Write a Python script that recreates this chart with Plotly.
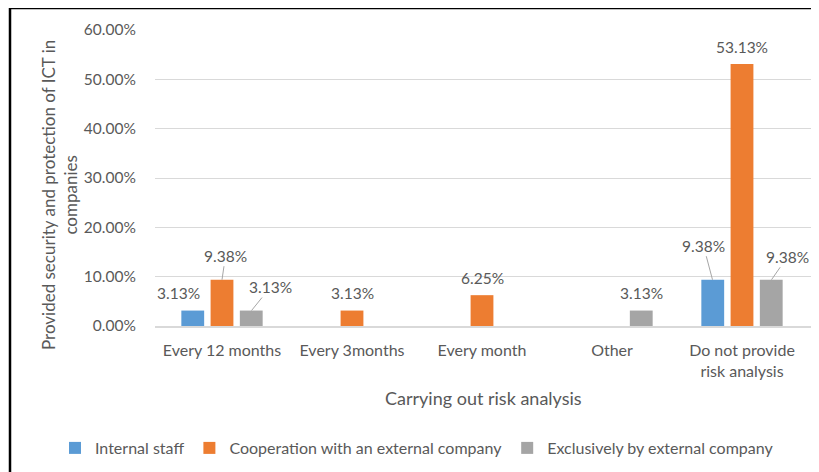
import plotly.graph_objects as go

# ---- data ----
categories = ["Every 12 months", "Every 3months", "Every month", "Other",
              "Do not provide<br>risk analysis"]
series_names = ["Internal staff", "Cooperation with an external company",
                "Exclusively by external company"]
internal_staff = [3.13, None, None, None, 9.38]
cooperation = [9.38, 3.13, 6.25, None, 53.13]
exclusively = [3.13, None, None, 3.13, 9.38]

colors = ["#5B9BD5", "#ED7D31", "#A5A5A5"]
all_series = [internal_staff, cooperation, exclusively]

# ---- layout geometry (page pixels; the page body adds an 8px offset) ----
OFF = 8
W, H = 819, 472
PL, PR, PT, PB = 155, 811, 30, 326      # plot box in page pixels
L, T = PL - OFF, PT - OFF
R, B = W - (PR - OFF), H - (PB - OFF)
PW, PH = PR - PL, PB - PT


def px(x):
    return (x - PL) / PW


def py(y):
    return (PB - y) / PH


FONT = "Lato, 'Open Sans', sans-serif"
GREY = "#595959"

fig = go.Figure()
for name, vals, col in zip(series_names, all_series, colors):
    fig.add_trace(go.Bar(x=categories, y=vals, name=name, marker_color=col,
                         marker_line_width=0))

# label offsets (pixels) per series/category: (dx, dy, arrow)
bar_offset = [-29.5, 0, 29.5]
label_pos = {
    (0, 0): (-14, -17.5, False),
    (1, 0): (3.5, -24, True),
    (2, 0): (19, -23.5, True),
    (1, 1): (0, -17.5, False),
    (1, 2): (0, -17, False),
    (2, 3): (0, -17.5, False),
    (0, 4): (-9, -34, True),
    (1, 4): (0, -16.5, False),
    (2, 4): (16, -23, True),
}

LBL = dict(family=FONT, size=15.5, color=GREY)
annotations = []
for (si, ci), (dx, dy, arrow) in label_pos.items():
    v = all_series[si][ci]
    txt = f"{v:.2f}%"
    if arrow:
        annotations.append(dict(x=categories[ci], y=v, xref="x", yref="y",
                                text=txt, showarrow=True, ax=dx, ay=dy,
                                axref="pixel", ayref="pixel",
                                arrowhead=0, arrowwidth=1, arrowcolor="#A6A6A6",
                                standoff=0, xshift=bar_offset[si], font=LBL))
    else:
        annotations.append(dict(x=categories[ci], y=v, xref="x", yref="y",
                                text=txt, showarrow=False,
                                xshift=bar_offset[si] + dx, yshift=-dy, font=LBL))

# axis titles
annotations.append(dict(x=px(483), y=py(398), xref="paper", yref="paper",
                        xanchor="center", yanchor="middle",
                        text="Carrying out risk analysis", showarrow=False,
                        font=dict(family=FONT, size=18, color=GREY)))
annotations.append(dict(x=px(59), y=py(195), xref="paper", yref="paper",
                        xanchor="center", yanchor="middle",
                        text="Provided security and protection of ICT in<br>companies",
                        textangle=-90, showarrow=False,
                        font=dict(family=FONT, size=17, color=GREY)))

shapes = [
    dict(type="line", xref="paper", yref="paper", x0=px(10), x1=px(10),
         y0=py(8), y1=py(490), line=dict(color="black", width=2.5)),
    dict(type="line", xref="paper", yref="paper", x0=px(10), x1=px(840),
         y0=py(8), y1=py(8), line=dict(color="black", width=2.5)),
]

fig.update_layout(
    width=W, height=H,
    margin=dict(l=L, r=R, t=T, b=B, pad=0, autoexpand=False),
    paper_bgcolor="white", plot_bgcolor="white",
    barmode="group", bargap=0.325, bargroupgap=0.22,
    font=dict(family=FONT, size=15, color=GREY),
    showlegend=True,
    legend=dict(orientation="h", xref="paper", yref="paper",
                x=px(55), y=py(448), xanchor="left", yanchor="middle",
                font=dict(family=FONT, size=16, color=GREY),
                itemwidth=30, bgcolor="rgba(0,0,0,0)"),
    annotations=annotations,
    shapes=shapes,
)
fig.update_xaxes(showgrid=False, showline=True, linecolor="#D9D9D9", linewidth=1.5,
                 ticks="outside", ticklen=9, tickcolor="rgba(0,0,0,0)",
                 tickfont=dict(family=FONT, size=16, color=GREY))
fig.update_yaxes(range=[0, 60], dtick=10, tickformat=".2f", ticksuffix="%",
                 showgrid=True, gridcolor="#D9D9D9", gridwidth=1, zeroline=False,
                 showline=False, ticks="outside", ticklen=15,
                 tickcolor="rgba(0,0,0,0)",
                 tickfont=dict(family=FONT, size=15.5, color=GREY))

fig.write_html("out.html")
